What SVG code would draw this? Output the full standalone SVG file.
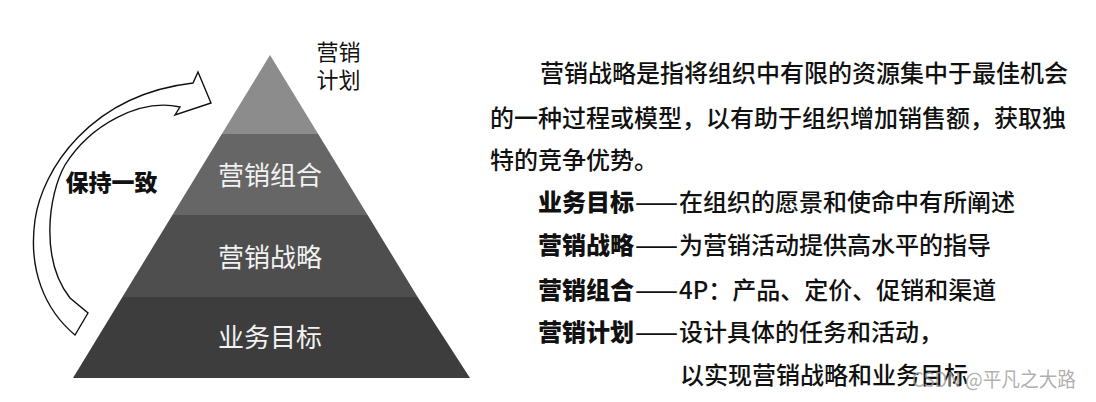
<svg xmlns="http://www.w3.org/2000/svg" width="1096" height="402" viewBox="0 0 1096 402">
<style>
.cjk{font-family:"Noto Sans CJK SC","Noto Sans",sans-serif;}
.lbl{font-size:26px;fill:#f2f2f2;text-anchor:middle;}
.body{font-size:24px;fill:#111;font-weight:500;}
.b{font-weight:900;}
</style>
<rect width="1096" height="402" fill="#ffffff"/>
<g id="connectors">
<path id="arrow" d="M75,335 C45,310 28,270 35,220 C42,170 90,95 193,83 L198,72 L211,103 L175,115 L180,107 C140,98 90,125 65,165 C48,195 40,260 70,298 L88,313 Z" fill="#ffffff" stroke="#111" stroke-width="1.4" stroke-linejoin="miter"/>
</g>
<g id="layer-plan">
<polygon points="270,55 318.2,134 221.8,134" fill="#8c8c8c"/>
</g>
<g id="layer-mix">
<polygon points="221.8,134 318.2,134 367.6,215 172.4,215" fill="#666666"/>
<text class="cjk lbl" x="270" y="185">营销组合</text>
</g>
<g id="layer-strategy">
<polygon points="172.4,215 367.6,215 417.6,297 122.4,297" fill="#4e4e4e"/>
<text class="cjk lbl" x="270" y="267">营销战略</text>
</g>
<g id="layer-goal">
<polygon points="122.4,297 417.6,297 470,378 73,378" fill="#3d3d3d"/>
<text class="cjk lbl" x="270" y="347">业务目标</text>
</g>
<g id="label-plan">
<text class="cjk" font-size="22" fill="#111" text-anchor="middle" x="338.5" y="60">营销</text>
<text class="cjk" font-size="22" fill="#111" text-anchor="middle" x="338.5" y="88">计划</text>
</g>
<g id="label-consistent">
<text class="cjk b" font-size="23" fill="#111" text-anchor="middle" x="111.5" y="191">保持一致</text>
</g>
<g id="description">
<text class="cjk body" x="540" y="82">营销战略是指将组织中有限的资源集中于最佳机会</text>
<text class="cjk body" x="490" y="127">的一种过程或模型，以有助于组织增加销售额，获取独</text>
<text class="cjk body" x="490" y="169">特的竞争优势。</text>
<text class="cjk body" y="211"><tspan class="b" x="538">业务目标</tspan><tspan x="635" textLength="43" lengthAdjust="spacingAndGlyphs">——</tspan><tspan x="679">在组织的愿景和使命中有所阐述</tspan></text>
<text class="cjk body" y="254"><tspan class="b" x="538">营销战略</tspan><tspan x="635" textLength="43" lengthAdjust="spacingAndGlyphs">——</tspan><tspan x="679">为营销活动提供高水平的指导</tspan></text>
<text class="cjk body" y="299"><tspan class="b" x="538">营销组合</tspan><tspan x="635" textLength="43" lengthAdjust="spacingAndGlyphs">——</tspan><tspan x="679">4P：产品、定价、促销和渠道</tspan></text>
<text class="cjk body" y="341"><tspan class="b" x="538">营销计划</tspan><tspan x="635" textLength="43" lengthAdjust="spacingAndGlyphs">——</tspan><tspan x="679">设计具体的任务和活动，</tspan></text>
<text class="cjk body" x="680" y="384">以实现营销战略和业务目标</text>
</g>
<g id="watermark">
<text class="cjk" font-size="20" fill="#9a9a9a" fill-opacity="0.8" x="912" y="387" textLength="164" lengthAdjust="spacingAndGlyphs">CSDN @平凡之大路</text>
</g>
</svg>
